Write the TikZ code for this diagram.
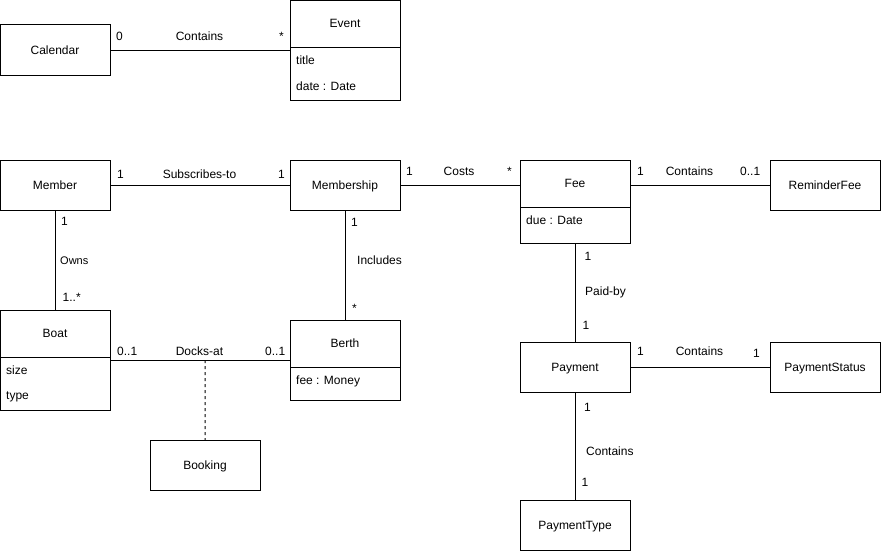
\documentclass[tikz,border=0pt]{standalone}
\usepackage{fontspec}
\setmainfont{Liberation Sans}
\usepackage{tikz}
\usetikzlibrary{positioning}

\begin{document}
\begin{tikzpicture}[x=1pt,y=-1pt,
            cls/.style={draw=black,line width=1pt,fill=white,outer sep=0pt,inner sep=0pt,text depth=0pt,
                        minimum width=110pt,minimum height=50pt,align=center,font=\fontsize{12}{14}\selectfont},
            attrs/.style={cls,minimum height=#1},
            txt/.style={inner sep=0pt,font=\fontsize{12}{14}\selectfont},
            lbl/.style={txt,anchor=base},
            mult/.style={txt,anchor=base west},
            assoc/.style={draw=black,line width=1pt},
            dep/.style={assoc,dash pattern=on 3pt off 3pt}]
            \useasboundingbox (0,0) rectangle (882,552);
            % classes
            \node[cls,minimum height=51pt] (calendar) at (55,50) {Calendar};
            \node[cls,minimum height=47pt] (eventhead) at (345,23.5) {Event};
            \node[attrs=53pt,below=0pt of eventhead] (eventattr) {};
            \node[mult] (eventtitle) at (296,64.5) {title};
            \node[mult] (eventdate) at (296,90) {date : Date};
            \node[cls] (member) at (55,185) {Member};
            \node[cls] (membership) at (345,185) {Membership};
            \node[cls,minimum height=47pt] (feehead) at (575,183.5) {Fee};
            \node[attrs=36pt,below=0pt of feehead] (feeattr) {};
            \node[mult] (feedue) at (526,224.5) {due : Date};
            \node[cls] (reminderfee) at (825,185) {ReminderFee};
            \node[cls,minimum height=47pt] (boathead) at (55,333.5) {Boat};
            \node[attrs=53pt,below=0pt of boathead] (boatattr) {};
            \node[mult] (boatsize) at (6,374) {size};
            \node[mult] (boattype) at (6,399) {type};
            \node[cls,minimum height=47pt] (berthhead) at (345,343.5) {Berth};
            \node[attrs=33pt,below=0pt of berthhead] (berthattr) {};
            \node[mult] (berthfee) at (296,384) {fee : Money};
            \node[cls] (booking) at (205,465) {Booking};
            \node[cls] (payment) at (575,367) {Payment};
            \node[cls] (paymentstatus) at (825,367) {PaymentStatus};
            \node[cls] (paymenttype) at (575,525) {PaymentType};
            % associations
            \draw[assoc] (calendar.east) -- (calendar.east -| eventattr.west);
            \node[mult] (calmult) at (116,40.5) {0};
            \node[lbl] (calrel) at (199.5,40.5) {Contains};
            \node[mult] (evmult) at (279,40.5) {*};
            \draw[assoc] (member) -- (membership);
            \node[mult] (memmult) at (117,178.5) {1};
            \node[lbl] (subrel) at (199.5,178.5) {Subscribes-to};
            \node[mult] (shipmult) at (278,178.5) {1};
            \draw[assoc] (membership.east) -- (membership.east -| feehead.west);
            \node[mult] (costmult) at (406,175.5) {1};
            \node[lbl] (costrel) at (459,175.5) {Costs};
            \node[mult] (feemult) at (507,175.5) {*};
            \draw[assoc] (reminderfee.west -| feehead.east) -- (reminderfee.west);
            \node[mult] (feemultb) at (637,175.5) {1};
            \node[lbl] (remrel) at (689.5,175.5) {Contains};
            \node[mult] (remmult) at (740,175.5) {0..1};
            \draw[assoc] (member) -- (boathead);
            \node[mult] (ownmult) at (61,225) {1};
            \node[mult,font=\fontsize{11}{13}\selectfont] (ownrel) at (60,264) {Owns};
            \node[mult] (boatmult) at (62.5,301.5) {1..*};
            \draw[assoc] (membership) -- (berthhead);
            \node[mult] (incmult) at (351,226) {1};
            \node[mult] (increl) at (357,264) {Includes};
            \node[mult] (berthmult) at (352,312.5) {*};
            \draw[assoc] ([yshift=-3pt]boathead.south east) -- coordinate[pos=0.528] (dock)
                         ([yshift=-3pt]boathead.south east -| berthhead.west);
            \node[mult] (dockmult) at (117,355) {0..1};
            \node[lbl] (dockrel) at (199.5,355) {Docks-at};
            \node[mult] (dockmultb) at (265,355) {0..1};
            \draw[dep] (dock) -- (booking);
            \draw[assoc] (feeattr) -- (payment);
            \node[mult] (paidmult) at (584.5,260) {1};
            \node[mult] (paidrel) at (585,295.5) {Paid-by};
            \node[mult] (paidmultb) at (582.5,329) {1};
            \draw[assoc] (payment) -- (paymentstatus);
            \node[mult] (statmult) at (637,355) {1};
            \node[lbl] (statrel) at (699.5,355) {Contains};
            \node[mult] (statmultb) at (753,357.5) {1};
            \draw[assoc] (payment) -- (paymenttype);
            \node[mult] (typemult) at (584,411) {1};
            \node[mult] (typerel) at (586,455) {Contains};
            \node[mult] (typemultb) at (581.5,486.5) {1};
        \end{tikzpicture}
\end{document}
